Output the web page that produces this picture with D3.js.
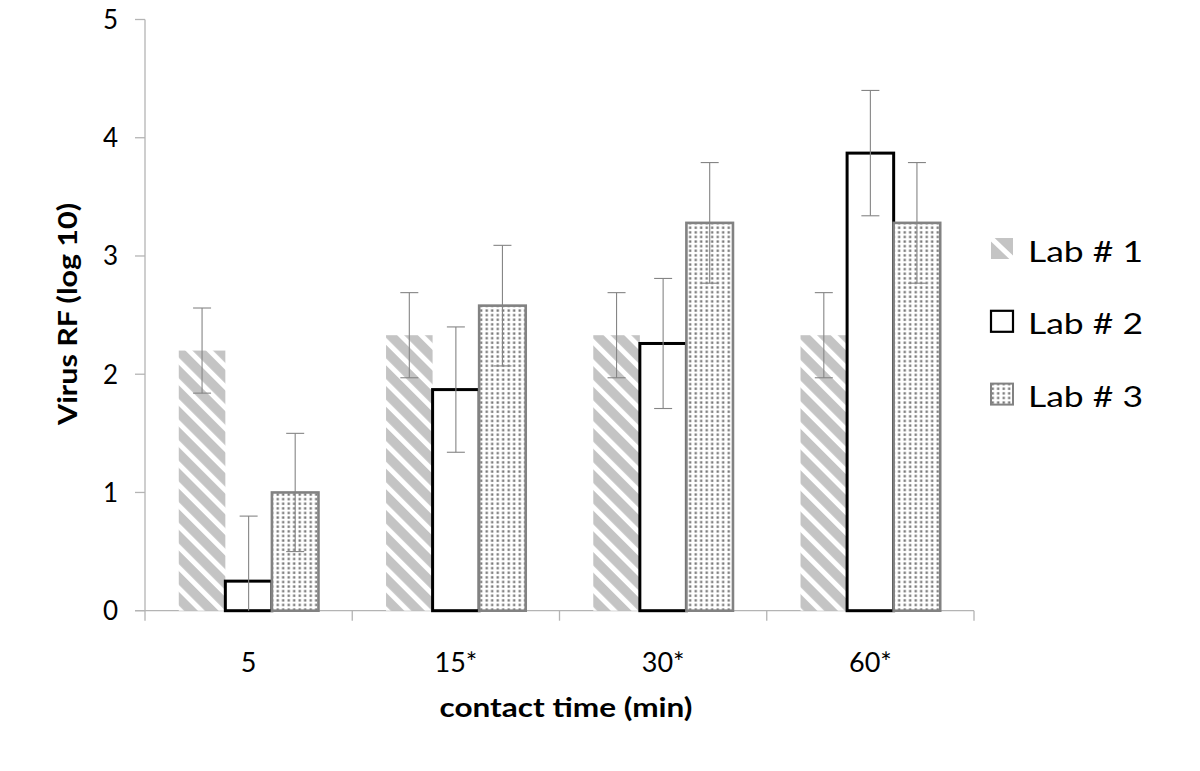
<!DOCTYPE html>
<html>
<head>
<meta charset="utf-8">
<script src="https://cdn.jsdelivr.net/npm/d3@7"></script>
<style>
  html, body { margin: 0; padding: 0; background: #fff; }
  svg { display: block; }
  text { font-family: Lato, "Open Sans", sans-serif; fill: #000; }
</style>
</head>
<body>
<svg id="chart" width="1200" height="771"></svg>
<script>
// ---- data ----
const categories = ["5", "15*", "30*", "60*"];
const seriesNames = ["Lab # 1", "Lab # 2", "Lab # 3"];
const lab1 = [2.20, 2.33, 2.33, 2.33];
const lab1Err = [0.36, 0.36, 0.36, 0.36];
const lab2 = [0.25, 1.87, 2.26, 3.87];
const lab2Err = [0.55, 0.53, 0.55, 0.53];
const lab3 = [1.00, 2.58, 3.28, 3.28];
const lab3Err = [0.50, 0.51, 0.51, 0.51];
const yTicks = [0, 1, 2, 3, 4, 5];
const xTitle = "contact time (min)";
const yTitle = "Virus RF (log 10)";

const seriesVals = [lab1, lab2, lab3];
const seriesErrs = [lab1Err, lab2Err, lab3Err];

const svg = d3.select("#chart");

// ---- patterns ----
const defs = svg.append("defs");
const hatch = defs.append("pattern")
  .attr("id", "hatch").attr("patternUnits", "userSpaceOnUse")
  .attr("width", 14.6).attr("height", 14.6)
  .attr("patternTransform", "rotate(-45)");
hatch.append("rect").attr("width", 14.6).attr("height", 14.6).attr("fill", "#c4c4c4");
hatch.append("rect").attr("x", 0).attr("width", 5).attr("height", 14.6).attr("fill", "#fff");

const dots = defs.append("pattern")
  .attr("id", "dots").attr("patternUnits", "userSpaceOnUse")
  .attr("width", 5.5).attr("height", 4.6);
dots.append("rect").attr("width", 5.5).attr("height", 4.6).attr("fill", "#fff");
dots.append("rect").attr("x", 1.5).attr("y", 1.2).attr("width", 2.4).attr("height", 2.3).attr("fill", "#7a7a7a");

const styles = [
  { fill: "url(#hatch)", stroke: "none", sw: 0 },
  { fill: "#fff", stroke: "#000", sw: 3 },
  { fill: "url(#dots)", stroke: "#828282", sw: 2.6 }
];

// ---- scales ----
const x0 = d3.scaleBand().domain(categories).range([145, 974])
  .paddingInner(0.326).paddingOuter(0.163);
const x1 = d3.scaleBand().domain(seriesNames).range([0, x0.bandwidth()]);
const y = d3.scaleLinear().domain([0, 5]).range([610.7, 19.5]);

// ---- axes ----
const axisColor = "#b4b4b4";
svg.append("line").attr("x1", 145).attr("x2", 145)
  .attr("y1", y(5)).attr("y2", y(0) + 10)
  .attr("stroke", axisColor).attr("stroke-width", 1.3);
svg.selectAll(".ytick").data(yTicks).join("line")
  .attr("x1", 135).attr("x2", 145)
  .attr("y1", d => y(d)).attr("y2", d => y(d))
  .attr("stroke", axisColor).attr("stroke-width", 1.3);
svg.selectAll(".ylab").data(yTicks).join("text")
  .attr("x", 118).attr("y", d => y(d) + 9.5)
  .attr("text-anchor", "end").attr("font-size", 26)
  .text(d => d);

svg.append("line").attr("x1", 135).attr("x2", 974)
  .attr("y1", y(0)).attr("y2", y(0))
  .attr("stroke", axisColor).attr("stroke-width", 1.3);
const bounds = categories.map(c => x0(c) - x0.step() * x0.paddingOuter()).concat([974]);
svg.selectAll(".xtick").data(bounds.slice(1)).join("line")
  .attr("x1", d => d).attr("x2", d => d)
  .attr("y1", y(0)).attr("y2", y(0) + 10)
  .attr("stroke", axisColor).attr("stroke-width", 1.3);
svg.selectAll(".xlab").data(categories).join("text")
  .attr("x", d => x0(d) + x0.bandwidth() / 2)
  .attr("y", 672)
  .attr("text-anchor", "middle").attr("font-size", 27)
  .text(d => d);

// ---- bars ----
seriesNames.forEach((s, si) => {
  const g = svg.append("g");
  g.selectAll("rect").data(categories).join("rect")
    .attr("x", c => x0(c) + x1(s))
    .attr("width", x1.bandwidth())
    .attr("y", (c, i) => y(seriesVals[si][i]))
    .attr("height", (c, i) => y(0) - y(seriesVals[si][i]))
    .attr("fill", styles[si].fill)
    .attr("stroke", styles[si].stroke)
    .attr("stroke-width", styles[si].sw);
});

// ---- error bars ----
const errColor = "#858585";
seriesNames.forEach((s, si) => {
  categories.forEach((c, i) => {
    const cx = x0(c) + x1(s) + x1.bandwidth() / 2;
    const v = seriesVals[si][i], e = seriesErrs[si][i];
    const hi = v + e, lo = Math.max(0, v - e);
    const g = svg.append("g").attr("stroke", errColor).attr("stroke-width", 1.1);
    g.append("line").attr("x1", cx).attr("x2", cx).attr("y1", y(hi)).attr("y2", y(lo));
    g.append("line").attr("x1", cx - 9).attr("x2", cx + 9).attr("y1", y(hi)).attr("y2", y(hi));
    if (v - e > 0) {
      g.append("line").attr("x1", cx - 9).attr("x2", cx + 9).attr("y1", y(lo)).attr("y2", y(lo));
    }
  });
});

// ---- titles ----
svg.append("text")
  .attr("x", 566).attr("y", 717)
  .attr("text-anchor", "middle").attr("font-size", 26).attr("font-weight", "bold")
  .attr("textLength", 253).attr("lengthAdjust", "spacingAndGlyphs")
  .text(xTitle);
svg.append("text")
  .attr("transform", "translate(77,314) rotate(-90)")
  .attr("text-anchor", "middle").attr("font-size", 26).attr("font-weight", "bold")
  .attr("textLength", 222).attr("lengthAdjust", "spacingAndGlyphs")
  .text(yTitle);

// ---- legend ----
const legend = svg.append("g");
defs.append("clipPath").attr("id", "swclip")
  .append("rect").attr("x", 991).attr("y", 238).attr("width", 22).attr("height", 21);
seriesNames.forEach((s, si) => {
  const cy = 248 + si * 72.8;
  if (si === 0) {
    legend.append("rect")
      .attr("x", 991).attr("y", cy - 10).attr("width", 22).attr("height", 21)
      .attr("fill", "#c4c4c4");
    legend.append("line")
      .attr("clip-path", "url(#swclip)")
      .attr("x1", 991).attr("y1", cy - 10).attr("x2", 1013).attr("y2", cy + 11)
      .attr("stroke", "#fff").attr("stroke-width", 5);
  } else {
    legend.append("rect")
      .attr("x", 991).attr("y", cy - 10).attr("width", 22).attr("height", 21)
      .attr("fill", styles[si].fill)
      .attr("stroke", styles[si].stroke)
      .attr("stroke-width", si === 1 ? 2.2 : 2);
  }
  legend.append("text")
    .attr("x", 1028).attr("y", cy + 13.5)
    .attr("font-size", 29)
    .attr("textLength", 115).attr("lengthAdjust", "spacingAndGlyphs")
    .text(s);
});
</script>
</body>
</html>
